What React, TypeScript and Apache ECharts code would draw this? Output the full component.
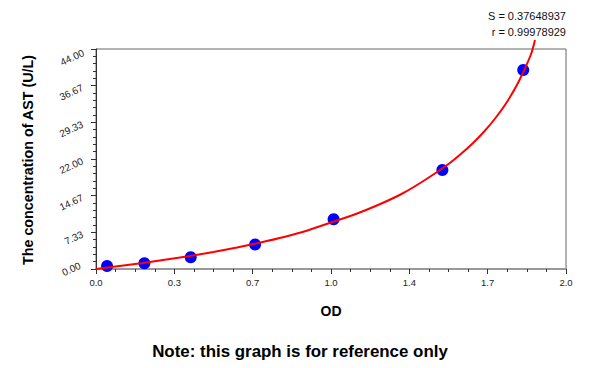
import React, { useEffect, useRef } from "react";
import * as echarts from "echarts";

const pointX = [0.047, 0.206, 0.403, 0.677, 1.011, 1.474, 1.818];
const pointY = [0.6, 1.14, 2.34, 4.9, 9.94, 19.8, 39.8];

const curveX = [0, 0.1, 0.2, 0.3, 0.4, 0.5, 0.6, 0.7, 0.8, 0.9, 1.0, 1.1, 1.2, 1.3, 1.4, 1.5, 1.55, 1.6, 1.65, 1.7, 1.75, 1.8, 1.85, 1.868];
const curveY = [0, 0.6, 1.2, 1.9, 2.6, 3.4, 4.3, 5.3, 6.4, 7.7, 9.3, 10.9, 12.8, 15.0, 17.8, 21.0, 22.9, 25.0, 27.4, 30.2, 33.5, 37.6, 42.8, 45.8];

const xTickLabels = ["0.0", "0.3", "0.7", "1.0", "1.4", "1.7", "2.0"];
const yTickLabels = ["0.00", "7.33", "14.67", "22.00", "29.33", "36.67", "44.00"];

const statS = "S = 0.37648937";
const statR = "r = 0.99978929";
const yName = "The concentration of AST (U/L)";
const xName = "OD";
const note = "Note: this graph is for reference only";

const FONT = "'Liberation Sans', Arial, sans-serif";

export default function App() {
  const ref = useRef<HTMLDivElement>(null);
  useEffect(() => {
    if (!ref.current) return;
    const chart = echarts.init(ref.current, null, { renderer: "svg" });
    chart.setOption({
      animation: false,
      backgroundColor: "#ffffff",
      textStyle: { fontFamily: FONT },
      grid: {
        left: 96,
        right: 34,
        top: 49,
        bottom: 99,
        show: true,
        borderColor: "#666",
        borderWidth: 1,
        backgroundColor: "transparent",
      },
      xAxis: {
        type: "value",
        min: 0,
        max: 2,
        interval: 2 / 6,
        axisLine: { show: true, lineStyle: { color: "#999", width: 2 } },
        axisTick: { show: true, length: 5, lineStyle: { color: "#333" } },
        minorTick: { show: true, splitNumber: 4, length: 3, lineStyle: { color: "#333" } },
        splitLine: { show: false },
        axisLabel: {
          margin: 8,
          fontSize: 9.5,
          color: "#222",
          fontFamily: FONT,
          formatter: (v: number) => xTickLabels[Math.round(v * 3)] ?? "",
        },
      },
      yAxis: {
        type: "value",
        min: 0,
        max: 44,
        interval: 44 / 6,
        axisLine: { show: true, lineStyle: { color: "#333", width: 1 } },
        axisTick: { show: true, length: 5, lineStyle: { color: "#333" } },
        minorTick: { show: true, splitNumber: 5, length: 3, lineStyle: { color: "#333" } },
        splitLine: { show: false },
        axisLabel: {
          margin: 14,
          fontSize: 10,
          rotate: 25,
          color: "#222",
          fontFamily: FONT,
          formatter: (v: number) => {
            const i = Math.round((v * 6) / 44);
            const t = yTickLabels[i] ?? "";
            if (i === 0) return "{lo|" + t + "}";
            if (i === 6) return "{hi|" + t + "}";
            return "{mid|" + t + "}";
          },
          rich: {
            lo: { fontSize: 10, fontFamily: FONT, color: "#222", padding: [0, 0, 9, 0] },
            hi: { fontSize: 10, fontFamily: FONT, color: "#222", padding: [7, 0, 0, 0] },
            mid: { fontSize: 10, fontFamily: FONT, color: "#222", padding: [3, 0, 0, 0] },
          },
        },
      },
      series: [
        {
          type: "line",
          data: curveX.map((x, i) => [x, curveY[i]]),
          showSymbol: false,
          symbol: "none",
          smooth: 0.3,
          clip: false,
          lineStyle: { color: "#ff0000", width: 2 },
          z: 3,
        },
        {
          type: "scatter",
          data: pointX.map((x, i) => [x, pointY[i]]),
          symbol: "circle",
          symbolSize: 12,
          itemStyle: { color: "#0000ff", opacity: 1 },
          z: 2,
        },
      ],
      graphic: [
        {
          type: "text",
          x: 566,
          y: 16,
          style: { text: statS, fontSize: 11, fontFamily: FONT, fill: "#111", align: "right", verticalAlign: "middle" },
        },
        {
          type: "text",
          x: 566,
          y: 32,
          style: { text: statR, fontSize: 11, fontFamily: FONT, fill: "#111", align: "right", verticalAlign: "middle" },
        },
        {
          type: "text",
          x: 28,
          y: 160,
          rotation: Math.PI / 2,
          style: { text: yName, fontSize: 14.3, fontWeight: "bold", fontFamily: FONT, fill: "#000", align: "center", verticalAlign: "middle" },
        },
        {
          type: "text",
          x: 331,
          y: 311,
          style: { text: xName, fontSize: 14, fontWeight: "bold", fontFamily: FONT, fill: "#000", align: "center", verticalAlign: "middle" },
        },
        {
          type: "text",
          x: 300,
          y: 351,
          style: { text: note, fontSize: 16.9, fontWeight: "bold", fontFamily: FONT, fill: "#000", align: "center", verticalAlign: "middle" },
        },
      ],
    });
    return () => chart.dispose();
  }, []);
  return (
    <div
      ref={ref}
      style={{ position: "fixed", left: 0, top: 0, width: 600, height: 368, background: "#fff" }}
    />
  );
}
